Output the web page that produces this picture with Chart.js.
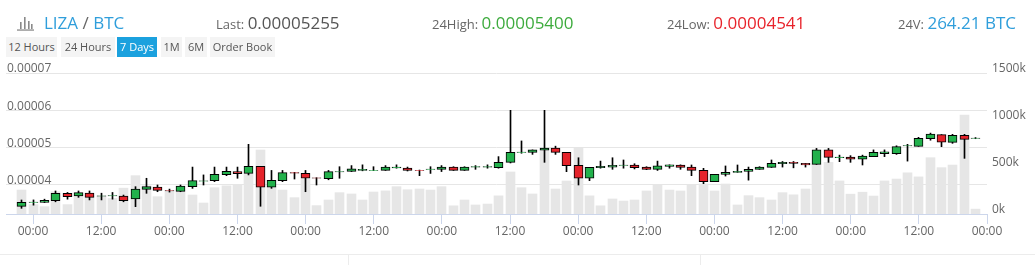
<!DOCTYPE html>
<html><head><meta charset="utf-8">
<script src="https://cdn.jsdelivr.net/npm/chart.js@4.4.1/dist/chart.umd.min.js"></script>
<style>
html,body{margin:0;padding:0;background:#fff;}
body{width:1035px;height:265px;position:relative;overflow:hidden;font-family:"Open Sans",sans-serif;}
#c{position:absolute;left:0;top:0;}
.t{position:absolute;white-space:nowrap;line-height:20px;}
.lbl{font-size:13px;color:#666;}
.big{font-size:17px;}
.btn{position:absolute;top:37px;height:20px;line-height:20px;font-size:11px;color:#555;background:#f4f4f4;text-align:center;white-space:nowrap;}
.btn.on{background:#1ba1de;color:#fff;}
.sep{position:absolute;background:#ececec;}
</style>
</head><body>
<canvas id="c" width="1035" height="265"></canvas>
<svg style="position:absolute;left:17px;top:16px" width="17" height="15" viewBox="0 0 17 15">
  <rect x="3" y="6" width="1.6" height="7" fill="#8a8a8a"/>
  <rect x="7" y="1" width="1.6" height="12" fill="#8a8a8a"/>
  <rect x="11" y="5" width="1.6" height="8" fill="#8a8a8a"/>
  <rect x="14" y="8" width="1.6" height="5" fill="#8a8a8a"/>
  <rect x="0" y="13.4" width="17" height="1.3" fill="#8a8a8a"/>
</svg>
<div class="t big" style="left:44px;top:13px;"><span style="color:#2f9edb">LIZA</span><span style="color:#666"> / </span><span style="color:#2f9edb">BTC</span></div>
<div class="t" style="left:216px;top:13px;"><span class="lbl">Last: </span><span class="big" style="color:#555">0.00005255</span></div>
<div class="t" style="left:432px;top:13px;"><span class="lbl">24High: </span><span class="big" style="color:#3dab3d">0.00005400</span></div>
<div class="t" style="left:667px;top:13px;"><span class="lbl">24Low: </span><span class="big" style="color:#e8232b">0.00004541</span></div>
<div class="t" style="left:898px;top:13px;"><span class="lbl">24V: </span><span class="big" style="color:#2f9edb">264.21 BTC</span></div>
<div class="btn" style="left:6px;width:51px;">12 Hours</div>
<div class="btn" style="left:61px;width:54px;">24 Hours</div>
<div class="btn on" style="left:117px;width:40px;">7 Days</div>
<div class="btn" style="left:161px;width:21px;">1M</div>
<div class="btn" style="left:185px;width:22px;">6M</div>
<div class="btn" style="left:210px;width:65px;">Order Book</div>
<div class="sep" style="left:0;top:254px;width:1035px;height:1px;"></div>
<div class="sep" style="left:348px;top:254px;width:1px;height:11px;"></div>
<div class="sep" style="left:700px;top:254px;width:1px;height:11px;"></div>
<script>
// Candles every 2 hours, hour 0 = first "00:00" tick
const candleHours = Array.from({length: 85}, (_, i) => -2 + 2 * i);
// prices in satoshi (1e-8 BTC)
const candleOpen = [3429,3530,3536,3580,3777,3705,3786,3700,3705,3705,3625,3884,3946,3850,3830,3955,4100,4116,4277,4357,4310,4500,3940,4116,4330,4310,4190,4170,4350,4366,4390,4390,4393,4460,4455,4395,4415,4420,4482,4393,4480,4480,4464,4607,4870,4875,4930,4990,4875,4527,4180,4464,4480,4525,4536,4482,4420,4500,4536,4482,4393,4090,4286,4340,4366,4420,4473,4570,4610,4580,4554,4940,4735,4750,4690,4760,4840,4840,5045,5036,5240,5350,5140,5330,5250];
const candleHigh = [3598,3600,3620,3840,3800,3840,3840,3780,3800,3730,3955,4180,4000,3890,4000,4480,4270,4480,4480,4480,5090,4500,4390,4390,4340,4390,4195,4390,4490,4520,4540,4490,4520,4540,4480,4400,4490,4520,4490,4490,4520,4540,4760,6000,5180,4940,6000,5040,4875,4730,4473,4640,4730,4670,4570,4490,4640,4540,4540,4536,4446,4286,4510,4536,4480,4490,4670,4630,4630,4580,4980,4980,4800,4786,4800,4940,4940,5050,5090,5277,5390,5350,5357,5357,5270];
const candleLow = [3375,3460,3530,3550,3620,3670,3600,3600,3620,3550,3420,3777,3820,3810,3820,3910,4000,4090,4250,4180,4270,3430,3910,4090,4160,3820,4000,4140,4180,4360,4380,4385,4390,4450,4375,4250,4310,4360,4390,4390,4420,4450,4450,4590,4850,4820,4607,4820,4357,4000,4116,4450,4420,4450,4430,4410,4390,4450,4420,4250,4036,4090,4240,4340,4130,4420,4470,4480,4460,4480,4550,4607,4625,4607,4536,4760,4760,4820,4640,5036,5200,5027,5116,4714,5240];
const candleClose = [3536,3540,3590,3777,3690,3795,3670,3710,3715,3580,3893,3955,3857,3840,3973,4116,4110,4286,4366,4304,4500,3940,4125,4330,4320,4180,4185,4357,4360,4430,4420,4395,4482,4480,4393,4390,4425,4482,4393,4482,4490,4490,4607,4875,4880,4940,4990,4875,4518,4180,4473,4500,4530,4535,4464,4420,4510,4540,4473,4393,4090,4286,4340,4366,4420,4482,4580,4610,4580,4540,4940,4740,4745,4690,4777,4875,4890,5027,5055,5250,5366,5150,5330,5220,5255];
const volume = [255000,100000,78000,237000,100000,215000,195000,190000,165000,275000,408000,300000,184000,245000,260000,202000,117000,280000,300000,305000,440000,681000,290000,255000,174000,370000,89000,149000,227000,213000,149000,234000,246000,291000,258000,266000,255000,291000,87000,149000,96000,106000,193000,447000,280000,213000,699000,266000,351000,699000,193000,87000,160000,138000,149000,245000,308000,255000,245000,308000,320000,245000,319000,96000,195000,174000,149000,227000,204000,266000,530000,550000,352000,211000,232000,191000,352000,372000,438000,395000,599000,493000,521000,1053000,52000];
const priceTicks = [4000, 5000, 6000, 7000];
const volumeTicks = [0, 500000, 1000000, 1500000];
const timeTicks = [0,12,24,36,48,60,72,84,96,108,120,132,144,156,168];
const timeTickLabels = ['00:00','12:00','00:00','12:00','00:00','12:00','00:00','12:00','00:00','12:00','00:00','12:00','00:00','12:00','00:00'];

const UP = '#22b14c', DOWN = '#e5232b';
const font = {family: 'Open Sans', size: 12};

// snap bar centres to half pixels so 1px wicks and bar edges stay crisp
const crisp = {
  id: 'crisp',
  beforeDatasetsDraw(chart) {
    chart.data.datasets.forEach((d, i) => {
      chart.getDatasetMeta(i).data.forEach(el => { el.x = Math.floor(el.x) + 0.5; });
    });
  }
};

new Chart(document.getElementById('c'), {
  type: 'bar',
  plugins: [crisp],
  data: {
    datasets: [
      {
        label: 'body', yAxisID: 'y', order: 1, grouped: false,
        data: candleHours.map((h, i) => ({x: h, y: [candleOpen[i], candleClose[i]]})),
        backgroundColor: candleHours.map((h, i) => candleClose[i] >= candleOpen[i] ? UP : DOWN),
        borderColor: '#000', borderWidth: 1, borderSkipped: false, barThickness: 9
      },
      {
        label: 'wick', yAxisID: 'y', order: 2, grouped: false,
        data: candleHours.map((h, i) => ({x: h, y: [candleLow[i], candleHigh[i]]})),
        backgroundColor: '#000', borderWidth: 0, barThickness: 1
      },
      {
        label: 'volume', yAxisID: 'yv', order: 3, grouped: false,
        data: candleHours.map((h, i) => ({x: h, y: volume[i]})),
        backgroundColor: '#e6e6e6', borderWidth: 0, barThickness: 9
      }
    ]
  },
  options: {
    responsive: false, animation: false, devicePixelRatio: 1,
    layout: {padding: {left: 6, right: 0, top: 73, bottom: 0}},
    plugins: {legend: {display: false}, tooltip: {enabled: false}},
    scales: {
      x: {
        type: 'linear', min: -4.76, max: 168, offset: false,
        afterBuildTicks: s => { s.ticks = timeTicks.map(v => ({value: v})); },
        afterFit: s => { s.height = 51; },
        ticks: {autoSkip: false, maxRotation: 0, font, color: '#666', padding: 0,
          callback: v => timeTickLabels[timeTicks.indexOf(v)]},
        grid: {drawOnChartArea: false, drawTicks: true, tickLength: 10, color: '#ccd6eb', offset: false},
        border: {display: true, color: '#ccd6eb', width: 1}
      },
      y: {
        position: 'left', min: 3223, max: 7000,
        afterBuildTicks: s => { s.ticks = priceTicks.map(v => ({value: v})); },
        afterFit: s => { s.width = 0; },
        ticks: {mirror: true, padding: 1, labelOffset: -4, font, color: '#666',
          callback: v => (v / 1e8).toFixed(5)},
        grid: {color: '#e6e6e6', drawTicks: false},
        border: {display: false}
      },
      yv: {
        position: 'right', min: 0, max: 1500000,
        afterBuildTicks: s => { s.ticks = volumeTicks.map(v => ({value: v})); },
        afterFit: s => { s.width = 48; },
        ticks: {padding: 5, labelOffset: -4, font, color: '#666',
          callback: v => (v / 1000) + 'k'},
        grid: {display: false, drawTicks: false},
        border: {display: false}
      }
    }
  }
});
</script>
</body></html>
